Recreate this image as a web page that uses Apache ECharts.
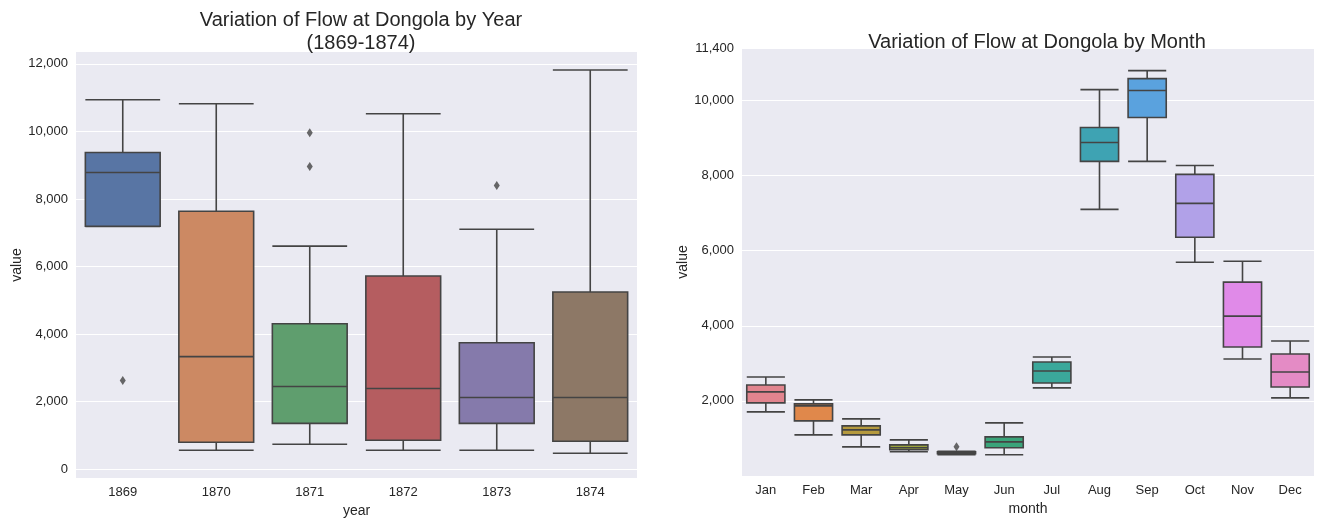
<!DOCTYPE html>
<html>
<head>
<meta charset="utf-8">
<script src="https://cdn.jsdelivr.net/npm/echarts@6/dist/echarts.min.js"></script>
<style>
    html, body { margin: 0; padding: 0; background: #fff; }
    #chart { width: 1322px; height: 523px; }
</style>
</head>
<body>
<div id="chart"></div>
<script>
// 年份数据 [min, Q1, median, Q3, max]
var years = ['1869', '1870', '1871', '1872', '1873', '1874'];
var yearBoxes = [
    [7190, 7193, 8785, 9375, 10938],
    [560, 796, 3331, 7636, 10820],
    [737, 1356, 2447, 4304, 6604],
    [560, 855, 2388, 5719, 10525],
    [560, 1356, 2123, 3744, 7105],
    [472, 825, 2123, 5248, 11822]
];
var yearOutliers = [[0, 2624], [2, 9965], [2, 8962], [4, 8402]];
var yearColors = ['#5875a4', '#cc8963', '#5f9e6e', '#b55d60', '#857aab', '#8d7866'];

// 月份数据
var months = ['Jan', 'Feb', 'Mar', 'Apr', 'May', 'Jun', 'Jul', 'Aug', 'Sep', 'Oct', 'Nov', 'Dec'];
var monthBoxes = [
    [1708, 1947, 2240, 2425, 2638],
    [1096, 1468, 1867, 1920, 2027],
    [777, 1096, 1229, 1335, 1522],
    [644, 698, 751, 830, 963],
    [565, 591, 618, 644, 660],
    [565, 751, 910, 1043, 1415],
    [2346, 2478, 2797, 3037, 3170],
    [7103, 8379, 8884, 9282, 10292],
    [8379, 9548, 10266, 10585, 10797],
    [5694, 6359, 7262, 8033, 8272],
    [3116, 3435, 4259, 5163, 5721],
    [2080, 2372, 2771, 3249, 3595]
];
var monthOutliers = [[4, 777]];
var monthColors = ['#e1848e', '#e0884b', '#b59a3e', '#9ba33c', '#6aa54b', '#3aa47a',
    '#3ba89b', '#3ea3b3', '#5aa2de', '#b1a1e8', '#e08ae8', '#e48bc5'];

var yTicksLeft = [0, 2000, 4000, 6000, 8000, 10000, 12000];

var txt = '#262626';
var boxData = function (boxes, colors) {
    return boxes.map(function (b, i) {
        return { value: b, itemStyle: { color: colors[i], borderColor: '#444', borderWidth: 1.6 } };
    });
};
var catAxis = function (gi, data, name) {
    return {
        type: 'category', gridIndex: gi, data: data, name: name,
        nameLocation: 'middle', nameGap: 24,
        nameTextStyle: { color: txt, fontSize: 14 },
        axisLine: { show: false }, axisTick: { show: false },
        axisLabel: { color: txt, fontSize: 13 }
    };
};

var myChart = echarts.init(document.getElementById('chart'), null, { renderer: 'canvas' });
myChart.setOption({
    backgroundColor: '#fff',
    animation: false,
    title: [
        { text: 'Variation of Flow at Dongola by Year\n(1869-1874)', left: 356, top: 4, textAlign: 'center',
          textStyle: { color: txt, fontSize: 20, fontWeight: 'normal', lineHeight: 23 } },
        { text: 'Variation of Flow at Dongola by Month', left: 1032, top: 27, textAlign: 'center',
          textStyle: { color: txt, fontSize: 20, fontWeight: 'normal' } }
    ],
    grid: [
        { left: 76, width: 561, top: 52, bottom: 43, backgroundColor: '#eaeaf2', show: true, borderWidth: 0 },
        { left: 742, right: 8, top: 48, bottom: 47, backgroundColor: '#eaeaf2', show: true, borderWidth: 0 }
    ],
    xAxis: [catAxis(0, years, 'year'), catAxis(1, months, 'month')],
    yAxis: [
        {
            type: 'value', gridIndex: 0, min: -265, max: 12353, name: 'value',
            nameLocation: 'middle', nameGap: 50, nameTextStyle: { color: txt, fontSize: 14 },
            axisLine: { show: false },
            axisTick: { show: false, customValues: yTicksLeft },
            axisLabel: { color: txt, fontSize: 13, customValues: yTicksLeft },
            splitLine: { lineStyle: { color: '#fff', width: 1.2 } }
        },
        {
            type: 'value', gridIndex: 1, min: 0, max: 11400, interval: 2000, name: 'value',
            nameLocation: 'middle', nameGap: 46, nameTextStyle: { color: txt, fontSize: 14 },
            axisLine: { show: false }, axisTick: { show: false },
            axisLabel: { color: txt, fontSize: 13, showMinLabel: false },
            splitLine: { lineStyle: { color: '#fff', width: 1.2 } }
        }
    ],
    series: [
        { type: 'boxplot', xAxisIndex: 0, yAxisIndex: 0, boxWidth: ['80%', '80%'], data: boxData(yearBoxes, yearColors) },
        { type: 'scatter', xAxisIndex: 0, yAxisIndex: 0, symbol: 'diamond', symbolSize: [6, 9],
          itemStyle: { color: '#444' }, data: yearOutliers },
        { type: 'boxplot', xAxisIndex: 1, yAxisIndex: 1, boxWidth: ['80%', '80%'], data: boxData(monthBoxes, monthColors) },
        { type: 'scatter', xAxisIndex: 1, yAxisIndex: 1, symbol: 'diamond', symbolSize: [6, 9],
          itemStyle: { color: '#444' }, data: monthOutliers }
    ]
});
</script>
</body>
</html>
